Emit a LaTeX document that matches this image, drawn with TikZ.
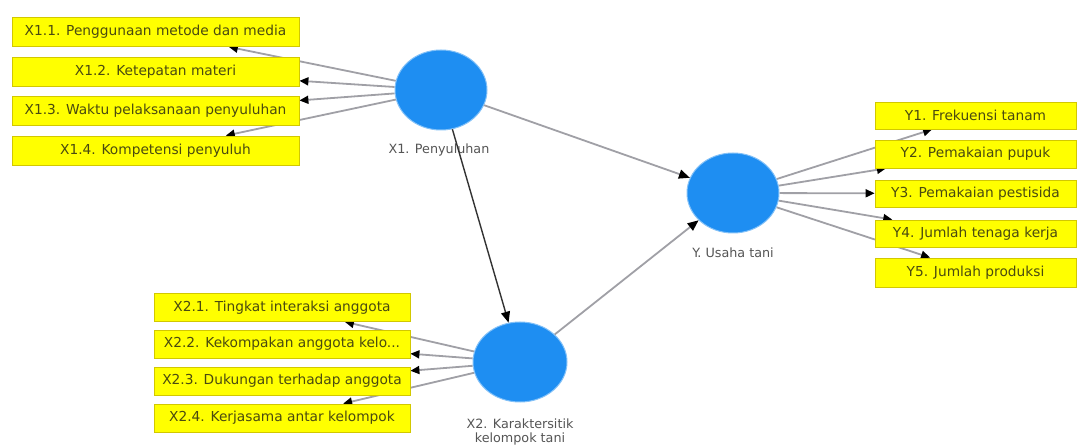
\documentclass[tikz,border=0pt]{standalone}
\usepackage{fontspec}
\setmainfont{DejaVu Sans}
\usetikzlibrary{arrows.meta,backgrounds,shapes.geometric}
\definecolor{ind}{HTML}{FFFF00}
\definecolor{indline}{HTML}{D2C800}
\definecolor{indtext}{HTML}{4A4A10}
\definecolor{lat}{HTML}{1E8EF2}
\definecolor{lattext}{HTML}{555555}
\definecolor{edgec}{HTML}{A0A0A6}
\definecolor{darkedge}{HTML}{333333}
\tikzset{
  indbox/.style={rectangle, fill=ind, draw=indline, line width=0.8bp, minimum height=29bp, inner sep=0pt, text=indtext, font=\fontsize{13.8}{16}\selectfont},
  latent/.style={ellipse, fill=lat, draw=lat!55!white, line width=1bp, minimum width=92bp, minimum height=80bp, inner sep=0pt},
  latlabel/.style={text=lattext, font=\fontsize{12.8}{15}\selectfont, align=center},
  loadarrow/.style={draw=edgec, line width=1.8bp, -{Triangle[length=9bp,width=8bp,color=black]}},
  patharrow/.style={draw=edgec, line width=1.8bp, -{Triangle[length=11bp,width=9bp,color=black]}},
  darkarrow/.style={draw=darkedge, line width=1.4bp, -{Triangle[length=11bp,width=9bp,color=black]}},
}
\begin{document}
\begin{tikzpicture}[x=1bp,y=-1bp]
\useasboundingbox (0,0) rectangle (1080,446);
% latent variables
\node[latent] (X1) at (441,90) {};
\node[latent] (Y) at (733,193) {};
\node[latent, minimum width=94bp] (X2) at (520,362) {};
\node[latlabel] (lx1) at (439,150) {X1. Penyuluhan};
\node[latlabel] (ly) at (733,253) {Y. Usaha tani};
\node[latlabel] (lx2) at (520,432) {X2. Karaktersitik\\kelompok tani};
% X1 indicators
\node[indbox, minimum width=287bp] (x11) at (155.5,32) {X1.1. Penggunaan metode dan media};
\node[indbox, minimum width=287bp] (x12) at (155.5,71.5) {X1.2. Ketepatan materi};
\node[indbox, minimum width=287bp] (x13) at (155.5,111) {X1.3. Waktu pelaksanaan penyuluhan};
\node[indbox, minimum width=287bp] (x14) at (155.5,150.5) {X1.4. Kompetensi penyuluh};
% X2 indicators
\node[indbox, minimum width=256bp, minimum height=28bp] (x21) at (282,307.5) {X2.1. Tingkat interaksi anggota};
\node[indbox, minimum width=256bp, minimum height=28bp] (x22) at (282,344) {X2.2. Kekompakan anggota kelo...};
\node[indbox, minimum width=256bp, minimum height=28bp] (x23) at (282,381) {X2.3. Dukungan terhadap anggota};
\node[indbox, minimum width=256bp, minimum height=28bp] (x24) at (282,418) {X2.4. Kerjasama antar kelompok};
% Y indicators
\node[indbox, minimum width=201bp, minimum height=27bp] (y1) at (975.5,115.5) {Y1. Frekuensi tanam};
\node[indbox, minimum width=201bp, minimum height=28bp] (y2) at (975.5,154) {Y2. Pemakaian pupuk};
\node[indbox, minimum width=201bp, minimum height=27bp] (y3) at (975.5,193.5) {Y3. Pemakaian pestisida};
\node[indbox, minimum width=201bp, minimum height=27bp] (y4) at (975.5,233.5) {Y4. Jumlah tenaga kerja};
\node[indbox, minimum width=201bp, minimum height=29bp] (y5) at (975.5,272.5) {Y5. Jumlah produksi};
\begin{pgfonlayer}{background}
  \fill[white] (0,0) rectangle (1080,446);
  \foreach \t in {x11,x12,x13,x14} \draw[loadarrow] (X1) -- (\t);
  \foreach \t in {x21,x22,x23,x24} \draw[loadarrow] (X2) -- (\t);
  \foreach \t in {y1,y2,y3,y4,y5} \draw[loadarrow] (Y) -- (\t);
\end{pgfonlayer}
% structural paths
\draw[patharrow] (X1) -- (Y);
\draw[patharrow] (X2) -- (Y);
\draw[darkarrow] (X1) -- (X2);
\end{tikzpicture}
\end{document}
